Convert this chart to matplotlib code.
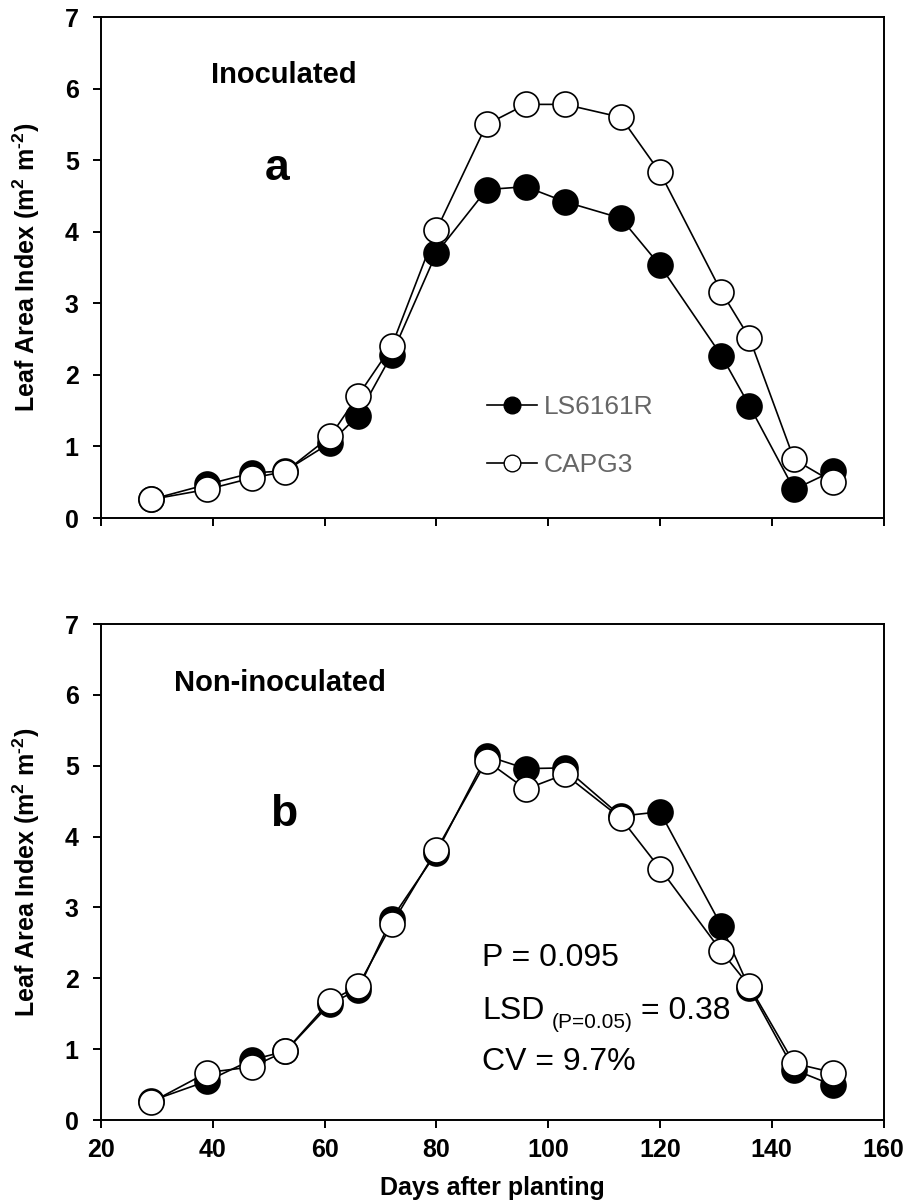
import matplotlib
matplotlib.use("Agg")
import matplotlib.pyplot as plt
from matplotlib.lines import Line2D

plt.rcParams['font.family'] = ['Liberation Sans', 'DejaVu Sans']
plt.rcParams['mathtext.fontset'] = 'custom'
plt.rcParams['mathtext.rm'] = 'Liberation Sans'
plt.rcParams['mathtext.bf'] = 'Liberation Sans:bold'

# days after planting
days = [29, 39, 47, 53, 61, 66, 72, 80, 89, 96, 103, 113, 120, 131, 136, 144, 151]

# panel a: inoculated
ls_inoc = [0.26, 0.47, 0.63, 0.66, 1.05, 1.43, 2.28, 3.70, 4.59, 4.63, 4.42, 4.19, 3.53, 2.27, 1.57, 0.40, 0.66]
capg_inoc = [0.26, 0.40, 0.56, 0.65, 1.14, 1.71, 2.40, 4.02, 5.50, 5.78, 5.78, 5.60, 4.83, 3.16, 2.52, 0.82, 0.50]

# panel b: non-inoculated
ls_non = [0.27, 0.55, 0.85, 0.97, 1.64, 1.84, 2.84, 3.77, 5.14, 4.96, 4.97, 4.29, 4.35, 2.74, 1.86, 0.71, 0.49]
capg_non = [0.25, 0.67, 0.75, 0.97, 1.68, 1.89, 2.76, 3.81, 5.07, 4.67, 4.88, 4.26, 3.55, 2.38, 1.89, 0.80, 0.67]

x_ticks = [20, 40, 60, 80, 100, 120, 140, 160]
y_ticks = [0, 1, 2, 3, 4, 5, 6, 7]
series_names = ['LS6161R', 'CAPG3']

fig = plt.figure(figsize=(9.09, 12.02), dpi=100)
ax1 = fig.add_axes([0.111, 0.569, 0.861, 0.4168])
ax2 = fig.add_axes([0.111, 0.0682, 0.861, 0.4126])

# hyphen instead of the long mathtext minus
ylab = 'Leaf Area Index (m$^{\\mathbf{2}}$ m$^{\\mathbf{\u20102}}$)'


def draw(ax, ls, capg):
    ax.plot(days, ls, '-o', color='black', lw=1.2, ms=18,
            mfc='black', mec='black', mew=1.2, zorder=3)
    ax.plot(days, capg, '-o', color='black', lw=1.2, ms=18,
            mfc='white', mec='black', mew=1.2, zorder=4)
    ax.set_xlim(20, 160)
    ax.set_ylim(0, 7)
    ax.set_xticks(x_ticks)
    ax.set_yticks(y_ticks)
    for s in ax.spines.values():
        s.set_linewidth(1.4)
    ax.tick_params(direction='out', length=6, width=1.4, labelsize=18)
    ax.tick_params(axis='y', pad=10)
    ax.tick_params(axis='x', pad=7)
    for lab in ax.get_xticklabels() + ax.get_yticklabels():
        lab.set_fontweight('bold')
    ax.set_ylabel(ylab, fontsize=18, fontweight='bold', labelpad=16)


draw(ax1, ls_inoc, capg_inoc)
ax1.tick_params(axis='x', labelbottom=False)
ax1.text(0.234, 0.868, 'Inoculated', transform=ax1.transAxes, ha='center',
         va='baseline', fontsize=21, fontweight='bold')
ax1.text(0.225, 0.675, 'a', transform=ax1.transAxes, ha='center',
         va='baseline', fontsize=32, fontweight='bold')

handles = [
    Line2D([], [], color='black', lw=1.2, marker='o', ms=12, mfc='black', mec='black'),
    Line2D([], [], color='black', lw=1.2, marker='o', ms=12, mfc='white', mec='black'),
]
leg = ax1.legend(handles, series_names, loc='center left', bbox_to_anchor=(0.493, 0.164),
                 frameon=False, fontsize=19, handlelength=1.9, handletextpad=0.25,
                 labelspacing=1.3, borderpad=0, borderaxespad=0)
for t in leg.get_texts():
    t.set_color('#666666')

draw(ax2, ls_non, capg_non)
ax2.set_xlabel('Days after planting', fontsize=18, fontweight='bold', labelpad=10)
ax2.text(0.229, 0.865, 'Non-inoculated', transform=ax2.transAxes, ha='center',
         va='baseline', fontsize=21, fontweight='bold')
ax2.text(0.233, 0.593, 'b', transform=ax2.transAxes, ha='center',
         va='baseline', fontsize=32, fontweight='bold')

# stats block
ax2.text(0.487, 0.31, 'P = 0.095', transform=ax2.transAxes, ha='left',
         va='baseline', fontsize=23)
t_lsd = ax2.text(0.487, 0.204, 'LSD', transform=ax2.transAxes, ha='left',
                 va='baseline', fontsize=23)
t_sub = ax2.annotate('(P=0.05)', xy=(1, 0.204), xycoords=(t_lsd, 'axes fraction'),
                     xytext=(5, -6.5), textcoords='offset points',
                     ha='left', va='baseline', fontsize=15)
ax2.annotate('= 0.38', xy=(1, 0.204), xycoords=(t_sub, 'axes fraction'),
             xytext=(6, 0), textcoords='offset points',
             ha='left', va='baseline', fontsize=23)
ax2.text(0.487, 0.1, 'CV = 9.7%', transform=ax2.transAxes, ha='left',
         va='baseline', fontsize=23)

fig.savefig('out.png', dpi=100)
